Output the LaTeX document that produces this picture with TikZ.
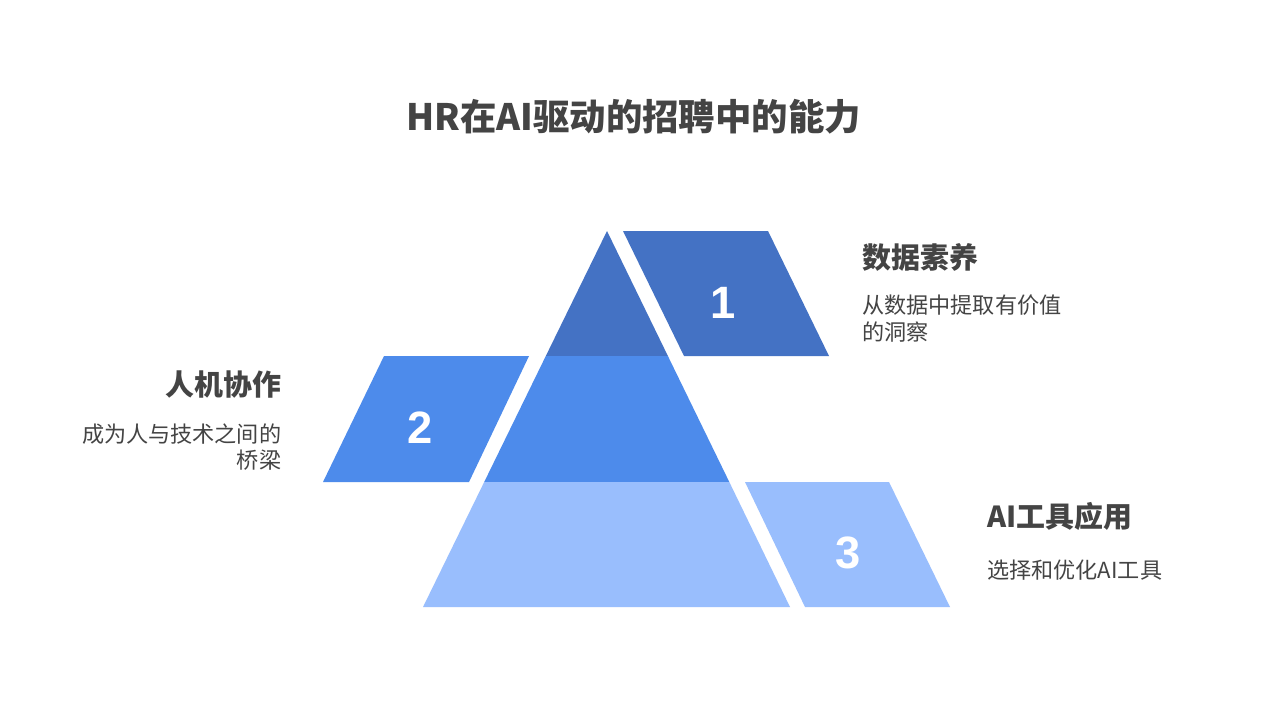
\documentclass[tikz,border=0pt]{standalone}
\usepackage{fontspec}
\newfontfamily\cjk{Noto Sans CJK SC}
\newfontfamily\numfont{Liberation Sans}
\definecolor{bandA}{HTML}{4472C4}
\definecolor{bandB}{HTML}{4D8BEB}
\definecolor{bandC}{HTML}{99BEFD}
\definecolor{txt}{HTML}{444444}
\tikzset{
  num/.style={text=white, font=\numfont\bfseries\fontsize{34}{40}\selectfont, inner sep=0, anchor=base},
  head/.style={text=txt, font=\cjk\bfseries\fontsize{21.7}{26}\selectfont, inner sep=0},
  desc/.style={text=txt, font=\cjk\fontsize{16.6}{20.5}\selectfont, inner sep=0},
}
\begin{document}
\begin{tikzpicture}[x=0.75pt,y=-0.75pt]
\useasboundingbox (0,0) rectangle (1269,714);
\fill[white] (0,0) rectangle (1269,714);
% pyramid bands
\fill[bandA] (607,231) -- (667.9,356) -- (545.8,356) -- cycle;
\fill[bandB] (545.8,356) -- (667.9,356) -- (729.3,482) -- (484.2,482) -- cycle;
\fill[bandC] (484.2,482) -- (729.3,482) -- (790,607) -- (423,607) -- cycle;
% side parallelograms
\fill[bandA] (623,231) -- (768,231) -- (829,356) -- (684,356) -- cycle;
\fill[bandB] (384,356) -- (529,356) -- (469,482) -- (323,482) -- cycle;
\fill[bandC] (745,482) -- (889,482) -- (950,607) -- (805,607) -- cycle;
% numbers
\node[num] (n1) at (723,318) {1};
\node[num] (n2) at (420,443) {2};
\node[num] (n3) at (848,568) {3};
% title
\node[text=txt, font=\cjk\bfseries\fontsize{27.3}{32}\selectfont, inner sep=0, anchor=base] (title) at (633.5,130.5) {HR在AI驱动的招聘中的能力};
% labels
\node[head, anchor=base west] (h1) at (862,268) {数据素养};
\node[desc, anchor=base west] (d1a) at (862,313.5) {从数据中提取有价值};
\node[desc, anchor=base west] (d1b) at (862,340.5) {的洞察};
\node[head, anchor=base east] (h2) at (281.5,395.5) {人机协作};
\node[desc, anchor=base east] (d2a) at (281.5,442) {成为人与技术之间的};
\node[desc, anchor=base east] (d2b) at (281.5,468) {桥梁};
\node[head, anchor=base west] (h3) at (987,527.5) {AI工具应用};
\node[desc, anchor=base west] (d3) at (987,578) {选择和优化AI工具};
\end{tikzpicture}
\end{document}
